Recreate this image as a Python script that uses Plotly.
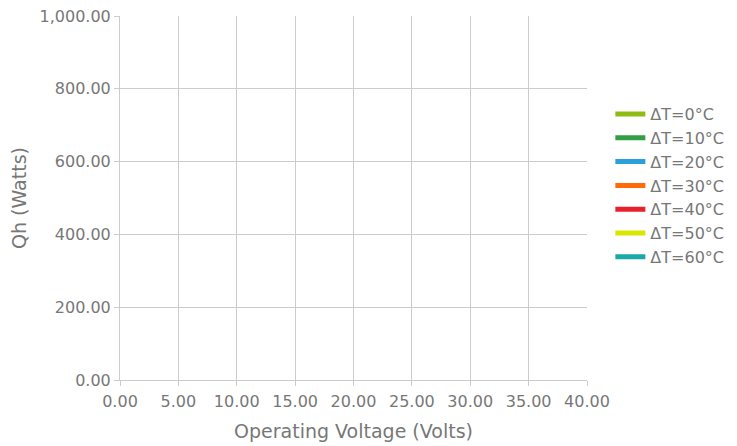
import plotly.graph_objects as go

series_names = ["ΔT=0°C", "ΔT=10°C", "ΔT=20°C", "ΔT=30°C", "ΔT=40°C", "ΔT=50°C", "ΔT=60°C"]
series_colors = ["#8fbc12", "#339e44", "#2ba0d8", "#ff6a0a", "#e8222b", "#d8e600", "#1aa9a6"]
# The reference shows no plotted data points; every series is blank.
voltage = {n: [None] for n in series_names}
qh = {n: [None] for n in series_names}

fig = go.Figure()
for n, c in zip(series_names, series_colors):
    fig.add_trace(go.Scatter(x=voltage[n], y=qh[n], mode="lines", name=n,
                             line=dict(color=c, width=5), showlegend=True))

axis_common = dict(showgrid=True, gridcolor="#cccccc", gridwidth=1,
                   showline=True, linecolor="#cccccc", linewidth=1,
                   ticks="outside", ticklen=5, tickcolor="#cccccc",
                   tickfont=dict(size=16, color="#777777"),
                   zeroline=False, tickformat=",.2f",
                   automargin=False, ticklabeloverflow="allow")

# page body has an 8px default margin, so the figure is sized to fit inside the window
fig.update_layout(
    width=729, height=438,
    paper_bgcolor="white", plot_bgcolor="white",
    font=dict(family="DejaVu Sans", color="#777777"),
    margin=dict(l=112, r=150, t=8, b=66),
    xaxis=dict(range=[0, 40], dtick=5, tick0=0, ticklabelstandoff=2,
               title=dict(text="Operating Voltage (Volts)", font=dict(size=19, color="#777777"), standoff=14),
               **axis_common),
    yaxis=dict(range=[0, 1000], dtick=200, tick0=0,
               title=dict(text="Qh (Watts)", font=dict(size=19, color="#777777"), standoff=8),
               **axis_common),
    legend=dict(x=1.05, y=0.534, xanchor="left", yanchor="middle",
                font=dict(size=16, color="#777777"), itemwidth=30,
                tracegroupgap=0, bgcolor="rgba(0,0,0,0)"),
    showlegend=True,
)

fig.write_html("out.html")
